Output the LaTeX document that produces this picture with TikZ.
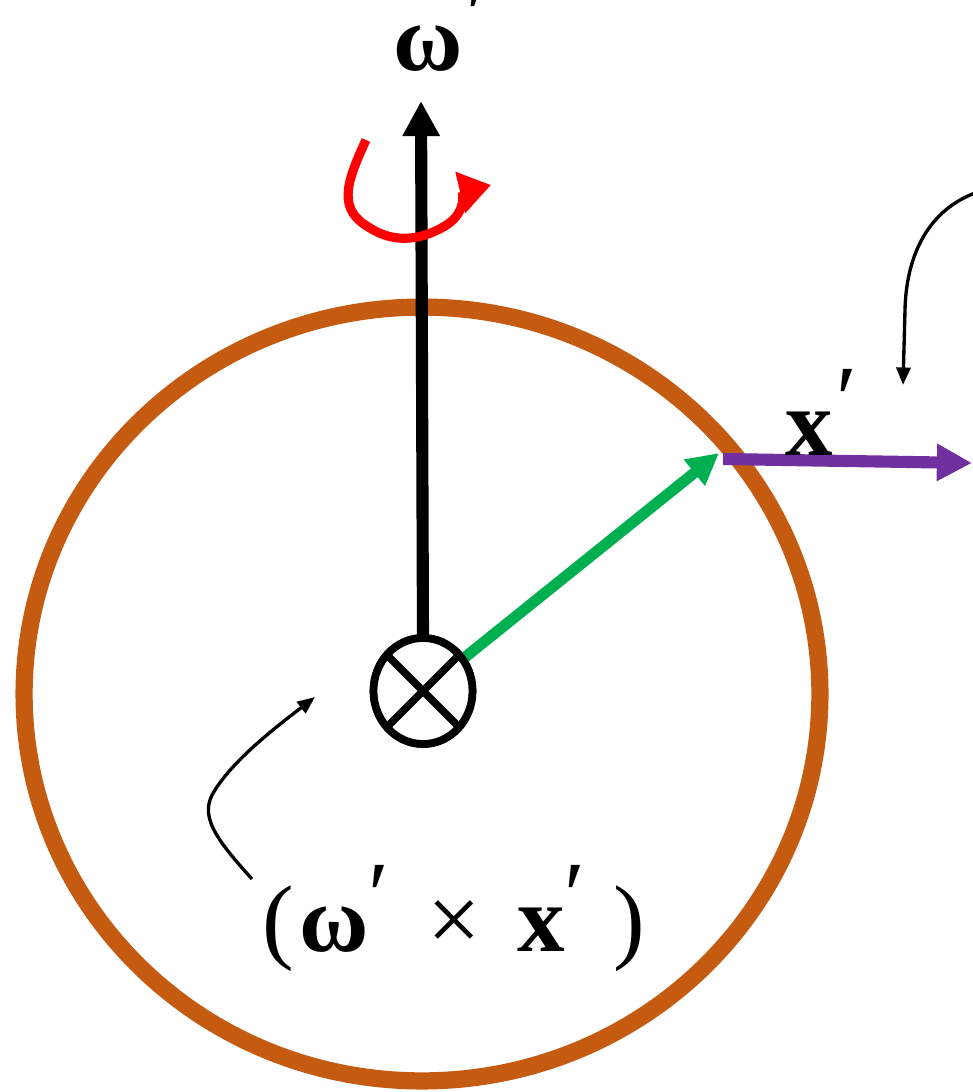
\documentclass[tikz,border=0pt]{standalone}
\usepackage{fontspec}
\setmainfont{Liberation Serif}
\usetikzlibrary{arrows.meta,shapes.geometric}
\definecolor{ringbrown}{HTML}{C55A11}
\definecolor{vgreen}{HTML}{00B050}
\definecolor{vpurple}{HTML}{7030A0}
\definecolor{vred}{HTML}{FF0000}
\newcommand{\pr}{\raisebox{0.25em}{′}}
\tikzset{
  ring/.style={draw=ringbrown, line width=9.8pt},
  axisarrow/.style={draw=black, line width=6.9pt, -{Triangle[length=20pt,width=20pt]}},
  posarrow/.style={draw=vgreen, line width=6.3pt, -{Triangle[length=18pt,width=18pt]}},
  velarrow/.style={draw=vpurple, line width=6.9pt, -{Triangle[length=20pt,width=20pt]}},
  rotarrow/.style={draw=vred, line width=5.2pt, -{Triangle[length=18pt,width=23pt]}},
  thinarrow/.style={draw=black, line width=1.9pt, -{Triangle[length=10pt,width=8pt]}},
  otimesnode/.style={draw, ellipse, line width=4.4pt, fill=white, minimum width=1.98cm, minimum height=2.12cm, inner sep=0pt, outer sep=0pt},
  bigtext/.style={font=\fontsize{54}{60}\selectfont, inner sep=0pt, anchor=base west}
}
\begin{document}
\begin{tikzpicture}[x=0.02cm,y=-0.02cm]
\useasboundingbox[fill=white] (0,0) rectangle (973,1092);
% ring
\draw[ring] (422,694) ellipse [x radius=7.96cm, y radius=7.74cm];
% otimes node
\node[otimesnode] (ot) at (423,691) {};
% coordinates
\coordinate (wtip) at (421,101);
\coordinate (gtip) at (719,453);
\coordinate (pstart) at (723,459);
\coordinate (ptip) at (972,463);
\coordinate (rstart) at (366,140);
\coordinate (rtip) at (491,185);
\coordinate (cstart) at (252,879);
\coordinate (ctip) at (315,697);
\coordinate (tstart) at (975,193);
\coordinate (ttip) at (903,385);
% axis arrow
\draw[axisarrow] (ot.north) -- (wtip);
% rotation arrow
\draw[rotarrow] (rstart) .. controls (345,185) and (338,210) .. (370,228)
  .. controls (392,242) and (418,242) .. (445,226)
  .. controls (468,212) and (462,192) .. (rtip);
% position vector
\draw[posarrow] (ot) -- (gtip);
% velocity vector
\draw[velarrow] (pstart) -- (ptip);
% redraw otimes on top
\node[otimesnode] (ot2) at (423,691) {};
\draw[line width=4.4pt] (ot2.45) -- (ot2.225) (ot2.135) -- (ot2.315);
% pointer curves
\draw[thinarrow] (cstart) .. controls (215,838) and (198,815) .. (215,790)
  .. controls (235,758) and (280,724) .. (ctip);
\draw[thinarrow] (tstart) .. controls (925,212) and (906,260) .. (905,310) -- (ttip);
% labels
\node[bigtext] (wlab) at (393,70) {\textbf{ω}\hspace{0.04em}\pr};
\node[bigtext] (xlab) at (785,455) {\textbf{x}\hspace{0.04em}\pr};
\node[bigtext] (formula) at (262,951) {(\hspace{0.06em}\textbf{ω}\pr\hspace{0.4em}×\hspace{0.38em}\textbf{x}\pr\hspace{0.3em})};
\end{tikzpicture}
\end{document}
